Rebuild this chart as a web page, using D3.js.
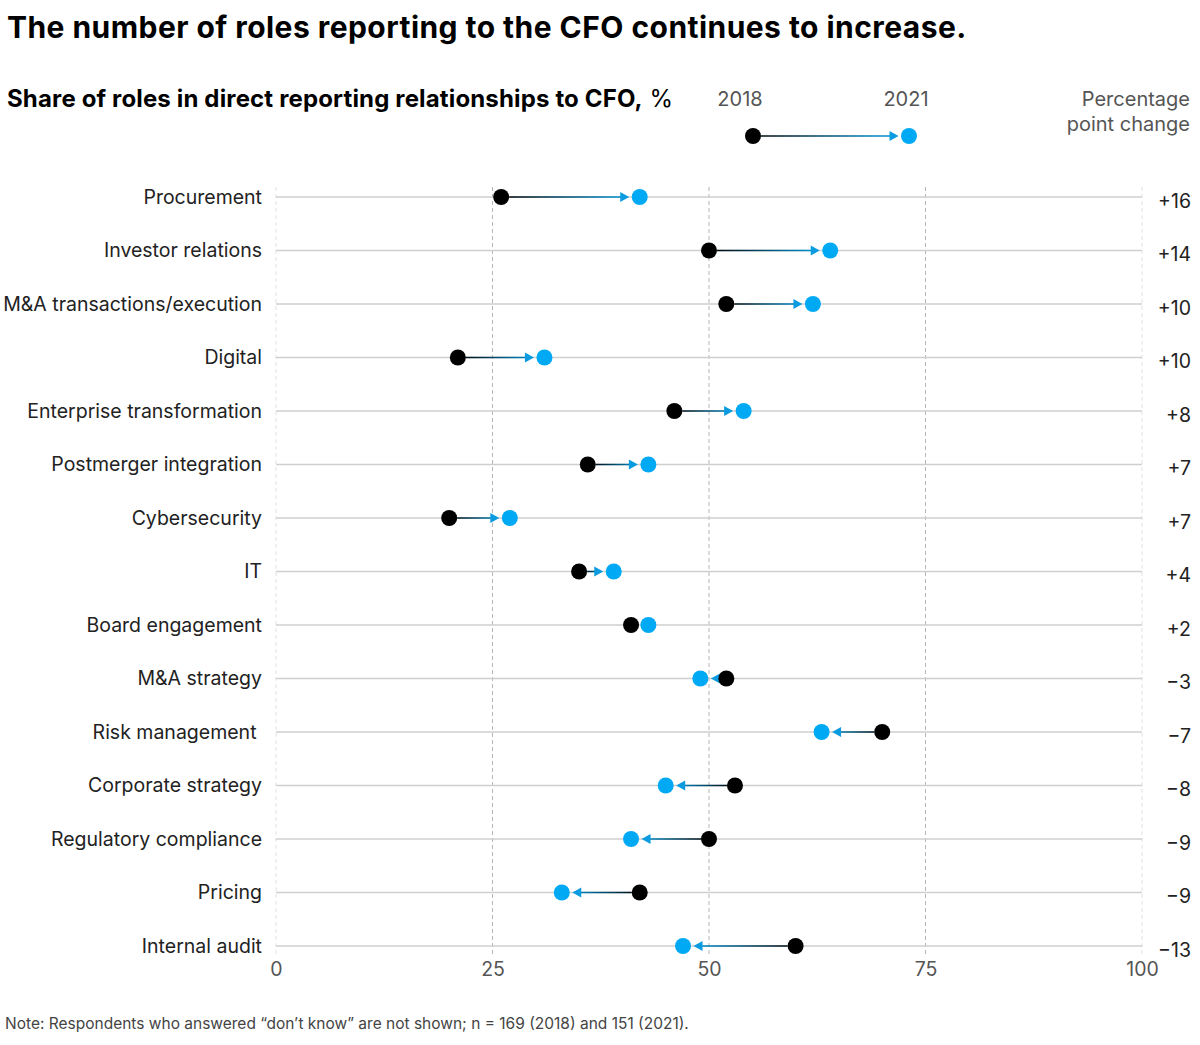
<!DOCTYPE html>
<html><head><meta charset="UTF-8">
<script src="https://d3js.org/d3.v7.min.js"></script>
<style>
  body { margin: 0; background: #fff; }
  svg text { font-family: "Inter", "Liberation Sans", sans-serif; }
</style>
</head>
<body>
<svg id="chart" width="1200" height="1045"></svg>
<script>
"use strict";
// Data
const roles = ["Procurement", "Investor relations", "M&A transactions/execution", "Digital",
  "Enterprise transformation", "Postmerger integration", "Cybersecurity", "IT",
  "Board engagement", "M&A strategy", "Risk management ", "Corporate strategy",
  "Regulatory compliance", "Pricing", "Internal audit"];
const share2018 = [26, 50, 52, 21, 46, 36, 20, 35, 41, 52, 70, 53, 50, 42, 60];
const share2021 = [42, 64, 62, 31, 54, 43, 27, 39, 43, 49, 63, 45, 41, 33, 47];
const changeLabels = ["+16", "+14", "+10", "+10", "+8", "+7", "+7", "+4", "+2",
  "\u22123", "\u22127", "\u22128", "\u22129", "\u22129", "\u221213"];
const xTicks = [0, 25, 50, 75, 100];

const BLACK = "#000", BLUE = "#00a9f4", R = 8;

const svg = d3.select("#chart");
const x = d3.scaleLinear().domain([0, 100]).range([276, 1142]);
const y = d3.scalePoint().domain(roles).range([197, 946]);
const defs = svg.append("defs");

// Titles
svg.append("text").attr("x", 7).attr("y", 38)
  .style("font-size", "30px").style("font-weight", "700").style("letter-spacing", "0.45px")
  .attr("fill", "#000")
  .text("The number of roles reporting to the CFO continues to increase.");
const sub = svg.append("text").attr("x", 7).attr("y", 107)
  .style("font-size", "24px").style("letter-spacing", "0.15px").attr("fill", "#000");
sub.append("tspan").style("font-weight", "700").text("Share of roles in direct reporting relationships to CFO,");
sub.append("tspan").text(" %");

// vertical gridlines
svg.append("g").selectAll("line").data(xTicks).join("line")
  .attr("x1", d => x(d)).attr("x2", d => x(d))
  .attr("y1", 187).attr("y2", 957)
  .attr("stroke", d => (d === 0 || d === 100) ? "#e2e2e2" : "#b5b5b5")
  .attr("stroke-width", 1).attr("stroke-dasharray", "4,3");

// horizontal row lines
svg.append("g").selectAll("line").data(roles).join("line")
  .attr("x1", x(0)).attr("x2", x(100))
  .attr("y1", d => y(d)).attr("y2", d => y(d))
  .attr("stroke", "#cfcfcf").attr("stroke-width", 1.3);

// x axis labels
const axis = d3.axisBottom(x).tickValues(xTicks).tickSize(0).tickPadding(0);
const gx = svg.append("g").attr("transform", "translate(0,957)").call(axis);
gx.select(".domain").remove();
gx.selectAll("text").attr("fill", "#555").style("font-size", "19.5px").attr("dy", "0.75em").attr("y", 4);

// row labels
svg.append("g").selectAll("text").data(roles).join("text")
  .attr("x", 262).attr("y", d => y(d)).attr("dy", "0.35em")
  .attr("text-anchor", "end").style("font-size", "19.5px").style("white-space", "pre")
  .attr("fill", "#222").text(d => d);

// change labels
svg.append("g").selectAll("text").data(roles).join("text")
  .attr("x", 1191).attr("y", d => y(d) + 4).attr("dy", "0.35em")
  .attr("text-anchor", "end").style("font-size", "19.5px").attr("fill", "#222")
  .text((d, i) => changeLabels[i]);

// draws one arrow from a (2018) to b (2021)
function dumbbell(g, xa, xb, yy, id) {
  const dir = xb > xa ? 1 : -1;
  const gap = Math.abs(xb - xa);
  const grad = defs.append("linearGradient").attr("id", id)
    .attr("gradientUnits", "userSpaceOnUse")
    .attr("x1", xa).attr("x2", xb).attr("y1", 0).attr("y2", 0);
  grad.append("stop").attr("offset", "0%").attr("stop-color", BLACK);
  grad.append("stop").attr("offset", "100%").attr("stop-color", BLUE);
  const tip = xb - dir * (R + 2.5);
  const arrowLen = 9;
  if (gap > 2 * R + arrowLen) {
    g.append("line").attr("x1", xa + dir * R).attr("x2", tip - dir * arrowLen + dir * 1)
      .attr("y1", yy).attr("y2", yy)
      .attr("stroke", `url(#${id})`).attr("stroke-width", 1.5);
    g.append("path")
      .attr("d", `M${tip},${yy} L${tip - dir * arrowLen},${yy - 5} L${tip - dir * arrowLen},${yy + 5} Z`)
      .attr("fill", "#0a9be0");
  }
  g.append("circle").attr("cx", xa).attr("cy", yy).attr("r", R).attr("fill", BLACK);
  g.append("circle").attr("cx", xb).attr("cy", yy).attr("r", R).attr("fill", BLUE);
}

const marks = svg.append("g");
roles.forEach((r, i) => {
  dumbbell(marks, x(share2018[i]), x(share2021[i]), y(r), "g" + i);
});

// legend
const lg = svg.append("g");
lg.append("text").attr("x", 740).attr("y", 106).attr("text-anchor", "middle")
  .style("font-size", "20px").attr("fill", "#555").text("2018");
lg.append("text").attr("x", 906).attr("y", 106).attr("text-anchor", "middle")
  .style("font-size", "20px").attr("fill", "#555").text("2021");
dumbbell(lg, 753, 909, 136, "glegend");
lg.append("text").attr("x", 1190).attr("y", 106).attr("text-anchor", "end")
  .style("font-size", "20px").attr("fill", "#555").text("Percentage");
lg.append("text").attr("x", 1190).attr("y", 131).attr("text-anchor", "end")
  .style("font-size", "20px").attr("fill", "#555").text("point change");

// note
svg.append("text").attr("x", 5).attr("y", 1029)
  .style("font-size", "15.5px").attr("fill", "#444")
  .text("Note: Respondents who answered \u201cdon\u2019t know\u201d are not shown; n = 169 (2018) and 151 (2021).");
</script>
</body>
</html>
